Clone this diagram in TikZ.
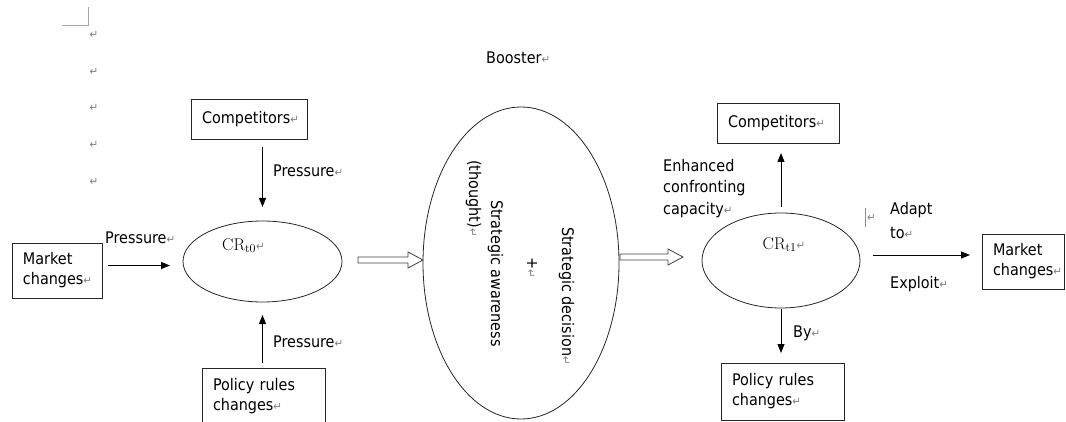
\RequirePackage{fix-cm}
\documentclass[tikz,border=0pt]{standalone}
\usepackage[no-math]{fontspec}
\setmainfont{DejaVu Sans Condensed}
\usetikzlibrary{shapes.geometric,arrows.meta,calc}

% paragraph mark shown after each line of text
\newcommand\rmk{{\color{black!50}\fontsize{11.5}{10}\selectfont ↵}}
% hollow block arrow between two named coordinates (horizontal)
\newcommand\fatarrow[2]{%
  \draw[hollow] ($(#1)+(0,-3)$) -- ($(#2)+(-15,-3)$) -- ($(#2)+(-15,-8)$)
    -- (#2) -- ($(#2)+(-15,8)$) -- ($(#2)+(-15,3)$) -- ($(#1)+(0,3)$) -- cycle;}

\begin{document}
\begin{tikzpicture}[x=1pt,y=-1pt,
  every node/.style={font=\fontsize{16}{20}\selectfont},
  ln/.style={draw=black!85, line width=0.8pt},
  box/.style={ln, inner xsep=11pt, inner ysep=0pt, outer sep=0pt, align=left, anchor=north west},
  oval/.style={ellipse, ln, inner sep=0pt, outer sep=0pt},
  arr/.style={black, line width=0.9pt, -{Triangle[length=9pt,width=7pt]}},
  txt/.style={inner sep=0pt, anchor=base west},
  vtxt/.style={txt, rotate=-90},
  crtxt/.style={inner sep=0pt, font=\fontsize{17}{20}\selectfont},
  hollow/.style={draw=black!75, line width=0.8pt, fill=white},
]
\useasboundingbox (0,0) rectangle (1066,422);

% page corner mark and empty paragraphs
\draw[black!35, line width=0.6pt] (62,25) -- (88,25) -- (88,7);
\foreach \yy in {35,72,108,145,182}
  \node[inner sep=0pt] at (94,\yy) {\rmk};

\node[txt] (booster) at (486,63.5) {Booster\rmk};

% ---- left part: pressures on CR at t0
\node[box, minimum width=116pt, minimum height=40pt, text width=94pt] (cL) at (191,99) {Competitors\rmk};
\node[box, minimum width=90pt, minimum height=55pt, text width=68pt] (mL) at (12,243) {Market\\changes\rmk};
\node[box, minimum width=123pt, minimum height=57pt, text width=101pt] (pL) at (202,368) {Policy rules\\changes\rmk};
\node[oval, minimum width=159pt, minimum height=81pt] (e0) at (262.5,261.5) {};
\node[crtxt] (cr0) at ([xshift=-19pt, yshift=16pt]e0.center) {$\mathrm{CR}_{\mathrm{t0}}$\rmk};

\draw[arr, shorten <=8pt, shorten >=14pt] (e0.north |- cL.south) -- (e0.north);
\draw[arr, shorten <=6pt, shorten >=13pt] ([yshift=5pt]mL.east) -- ([yshift=5pt]mL.east -| e0.west);
\draw[arr, shorten <=5pt, shorten >=13pt] (e0.south |- pL.north) -- (e0.south);

\node[txt] (p1) at (105,243.5) {Pressure\rmk};
\node[txt] (p2) at (273,176.5) {Pressure\rmk};
\node[txt] (p3) at (273,347.5) {Pressure\rmk};

% ---- booster
\node[oval, minimum width=196pt, minimum height=312pt] (bE) at (521,263) {};
\node[vtxt] (th) at (469,160) {(thought)\rmk};
\node[vtxt] (sa) at (491,200) {Strategic awareness};
\node[vtxt] (plus) at (527,257) {+\rmk};
\node[vtxt] (sd) at (562,227) {Strategic decision\rmk};

\coordinate (h1s) at ([xshift=16pt, yshift=1.5pt]e0.east);
\coordinate (h1e) at ([yshift=3pt]bE.west);
\fatarrow{h1s}{h1e}

% ---- right part: CR at t1
\node[oval, minimum width=158pt, minimum height=95pt] (e1) at (781,260.5) {};
\node[crtxt] (cr1) at ([xshift=3pt, yshift=16pt]e1.center) {$\mathrm{CR}_{\mathrm{t1}}$\rmk};
\coordinate (h2s) at ([xshift=1pt, yshift=6pt]bE.east);
\coordinate (h2e) at ([xshift=-19pt, yshift=3.5pt]e1.west);
\fatarrow{h2s}{h2e}

\node[box, minimum width=122pt, minimum height=40pt, text width=100pt] (cR) at (717,103) {Competitors\rmk};
\node[box, minimum width=82pt, minimum height=55pt, text width=60pt] (mR) at (982,234) {Market\\changes\rmk};
\node[box, minimum width=123pt, minimum height=57pt, text width=101pt] (pR) at (721,363) {Policy rules\\changes\rmk};

\draw[arr, shorten <=6pt, shorten >=10pt] (e1.north) -- (e1.north |- cR.south);
\draw[arr, shorten <=1pt, shorten >=10pt] (e1.south) -- (e1.south |- pR.north);
\draw[arr, shorten <=13pt, shorten >=12pt] ([yshift=5.5pt]e1.east) -- ([yshift=5.5pt]e1.east -| mR.west);

\node[inner sep=0pt, anchor=north west, align=left, font=\fontsize{16}{21.5}\selectfont] (enh) at (663,159) {Enhanced\\confronting\\capacity\rmk};
\draw[black!45, line width=0.6pt] (865,208) -- (865,227);
\node[txt] (cur) at (867,222) {\rmk};
\node[inner sep=0pt, anchor=north west, align=left, font=\fontsize{16}{24}\selectfont] (adapt) at (890,202) {Adapt\\to\rmk};
\node[txt] (expl) at (890,288.5) {Exploit\rmk};
\node[txt] (by) at (793,337.5) {By\rmk};
\end{tikzpicture}
\end{document}
